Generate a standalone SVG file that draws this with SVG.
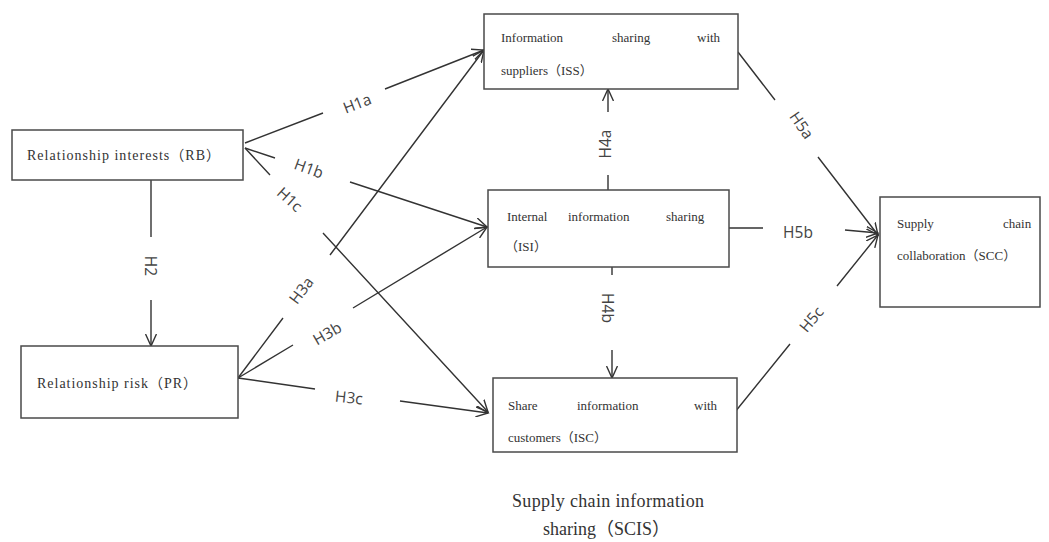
<svg xmlns="http://www.w3.org/2000/svg" width="1049" height="542" viewBox="0 0 1049 542">
<defs>
<style>
.box{fill:#fff;stroke:#4a4a4a;stroke-width:1.5}
.t{font-family:"Liberation Serif","Noto Sans CJK SC",serif;font-size:13px;fill:#333}
.tl{font-family:"Liberation Serif","Noto Sans CJK SC",serif;font-size:14px;fill:#333}
.cap{font-family:"Liberation Serif","Noto Sans CJK SC",serif;font-size:18px;fill:#333}
.lbl{font-family:"Open Sans","Noto Sans",sans-serif;font-size:15.5px;fill:#444;text-anchor:middle;dominant-baseline:central}
.c{fill:none;stroke:#333;stroke-width:1.4;marker-end:url(#arr)}
</style>
<marker id="arr" markerUnits="userSpaceOnUse" markerWidth="14" markerHeight="12" refX="12" refY="6" orient="auto">
<path d="M0,0.5 L12,6 L0,11.5" fill="none" stroke="#333" stroke-width="1.4"/>
</marker>
</defs>
<rect width="1049" height="542" fill="#fff"/>
<g id="connectors">
<path id="H1a" class="c" d="M245,143 L323,113 M385,89 L484,50"/>
<path id="H1b" class="c" d="M245,148 L275,158 M350,182 L487,227"/>
<path id="H1c" class="c" d="M245,148 L270,175 M323,233 L488,412"/>
<path id="H2" class="c" d="M151,180 L151,237 M151,300 L151,346"/>
<path id="H3a" class="c" d="M238,378 L283,318 M330,255 L484,50"/>
<path id="H3b" class="c" d="M238,378 L293,345 M353,308 L487,227"/>
<path id="H3c" class="c" d="M238,378 L315,389 M400,401 L488,413"/>
<path id="H4a" class="c" d="M608,190 L608,175 M608,112 L608,89"/>
<path id="H4b" class="c" d="M612,267 L612,275 M612,350 L612,378"/>
<path id="H5a" class="c" d="M738,52 L775,100 M818,157 L878,235"/>
<path id="H5b" class="c" d="M729,228 L763,228 M845,230 L878,233"/>
<path id="H5c" class="c" d="M735,412 L790,344 M837,286 L878,235"/>
<text class="lbl" transform="translate(357,103) rotate(-21)">H1a</text>
<text class="lbl" transform="translate(309,168) rotate(20)">H1b</text>
<text class="lbl" transform="translate(290,199) rotate(42)">H1c</text>
<text class="lbl" transform="translate(151,266) rotate(90)">H2</text>
<text class="lbl" transform="translate(301,290) rotate(-53)">H3a</text>
<text class="lbl" transform="translate(327,333) rotate(-30)">H3b</text>
<text class="lbl" transform="translate(349,397) rotate(6)">H3c</text>
<text class="lbl" transform="translate(605,144) rotate(-90)">H4a</text>
<text class="lbl" transform="translate(608,308) rotate(90)">H4b</text>
<text class="lbl" transform="translate(802,125) rotate(55)">H5a</text>
<text class="lbl" transform="translate(798,232)">H5b</text>
<text class="lbl" transform="translate(811,319) rotate(-50)">H5c</text>
</g>
<g id="RB">
<rect class="box" x="12" y="130" width="231" height="50"/>
<text class="tl" x="27" y="160" textLength="193" lengthAdjust="spacing">Relationship interests（RB）</text>
</g>
<g id="PR">
<rect class="box" x="21" y="346" width="217" height="72"/>
<text class="tl" x="37" y="388" textLength="160" lengthAdjust="spacing">Relationship risk（PR）</text>
</g>
<g id="ISS">
<rect class="box" x="484" y="14" width="254" height="75"/>
<text class="t" x="501" y="42">Information</text>
<text class="t" x="612" y="42">sharing</text>
<text class="t" x="697" y="42">with</text>
<text class="t" x="501" y="75">suppliers（ISS）</text>
</g>
<g id="ISI">
<rect class="box" x="488" y="190" width="241" height="77"/>
<text class="t" x="507" y="221">Internal</text>
<text class="t" x="568" y="221">information</text>
<text class="t" x="666" y="221">sharing</text>
<text class="t" x="505" y="251">（ISI）</text>
</g>
<g id="ISC">
<rect class="box" x="493" y="378" width="244" height="74"/>
<text class="t" x="508" y="410">Share</text>
<text class="t" x="577" y="410">information</text>
<text class="t" x="694" y="410">with</text>
<text class="t" x="508" y="442">customers（ISC）</text>
</g>
<g id="SCC">
<rect class="box" x="880" y="197" width="160" height="110"/>
<text class="t" x="897" y="228">Supply</text>
<text class="t" x="1003" y="228">chain</text>
<text class="t" x="897" y="260">collaboration（SCC）</text>
</g>
<g id="SCIS">
<text class="cap" x="512" y="507" textLength="192" lengthAdjust="spacing">Supply chain information</text>
<text class="cap" x="543" y="535">sharing（SCIS）</text>
</g>
</svg>
